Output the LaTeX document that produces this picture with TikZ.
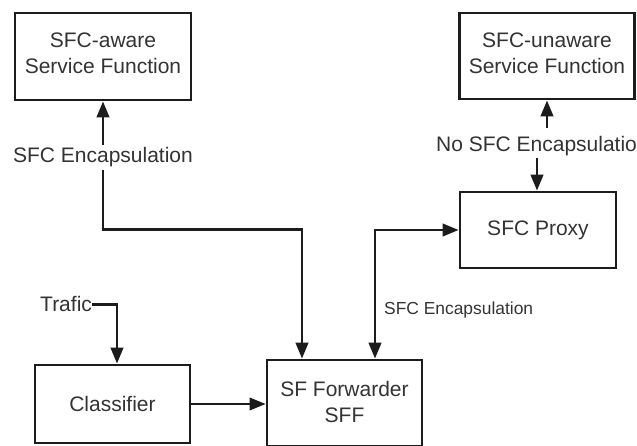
\documentclass[tikz,border=0pt]{standalone}
\usepackage{fontspec}
\setmainfont{Liberation Sans}
\usetikzlibrary{arrows.meta}
\definecolor{ink}{HTML}{1C1C1C}
\definecolor{txt}{HTML}{333333}
\begin{document}
\begin{tikzpicture}[x=1pt,y=-1pt,
  box/.style={draw=ink, line width=2.8pt, text=txt, align=center,
    font=\fontsize{21}{26}\selectfont, inner sep=0pt},
  lab/.style={text=txt, font=\fontsize{21}{26}\selectfont, inner sep=0pt},
  smalllab/.style={text=txt, font=\fontsize{17.4}{20}\selectfont, inner sep=0pt},
  conn/.style={draw=ink, line width=2.6pt, -{Triangle[length=16pt,width=12.5pt]}},
  biconn/.style={draw=ink, line width=2.6pt,
    {Triangle[length=16pt,width=12.5pt]}-{Triangle[length=16pt,width=12.5pt]}}]
\useasboundingbox (0,0) rectangle (637,446);

% boxes (the trailing rule lifts the two-line texts slightly)
\node[box, minimum width=176, minimum height=87] (aware) at (103,56.5)
  {SFC-aware\\Service Function\rule[-6pt]{0pt}{0pt}};
\node[box, minimum width=175, minimum height=86] (unaware) at (547,56)
  {SFC-unaware\\Service Function\rule[-6pt]{0pt}{0pt}};
\node[box, minimum width=156, minimum height=76] (proxy) at (538,230)
  {SFC Proxy};
\node[box, minimum width=155, minimum height=78] (classifier) at (112.5,404)
  {Classifier};
\node[box, minimum width=155, minimum height=86] (sff) at (344.5,403)
  {SF Forwarder\\SFF\rule[-3pt]{0pt}{0pt}};

% incoming traffic
\node[lab, anchor=base west] (trafic) at (40,312) {Trafic};
\draw[conn] (trafic.east) -| ([xshift=4.5pt]classifier.north);

% classifier to forwarder
\draw[conn, line width=2pt] (classifier.east) -- (classifier.east -| sff.west);

% forwarder to SFC-aware function
\draw[biconn] ([xshift=-42.5pt]sff.north) -- ++(0,-129) -| (aware.south);
\node[lab, anchor=base, fill=white, inner sep=3pt] (encl) at (103,163)
  {SFC Encapsulation};

% forwarder to proxy
\draw[biconn] ([xshift=30.5pt]sff.north) |- (proxy.west);
\node[smalllab, anchor=base west] (encr) at (384,315) {SFC Encapsulation};

% proxy to SFC-unaware function
\node[lab, anchor=base west] (nolab) at (436,152) {No SFC Encapsulation};
\coordinate (upTail) at (547,128);
\coordinate (dnTail) at (537,158);
\draw[conn] (upTail) -- (upTail |- unaware.south);
\draw[conn] (dnTail) -- (dnTail |- proxy.north);
\end{tikzpicture}
\end{document}
